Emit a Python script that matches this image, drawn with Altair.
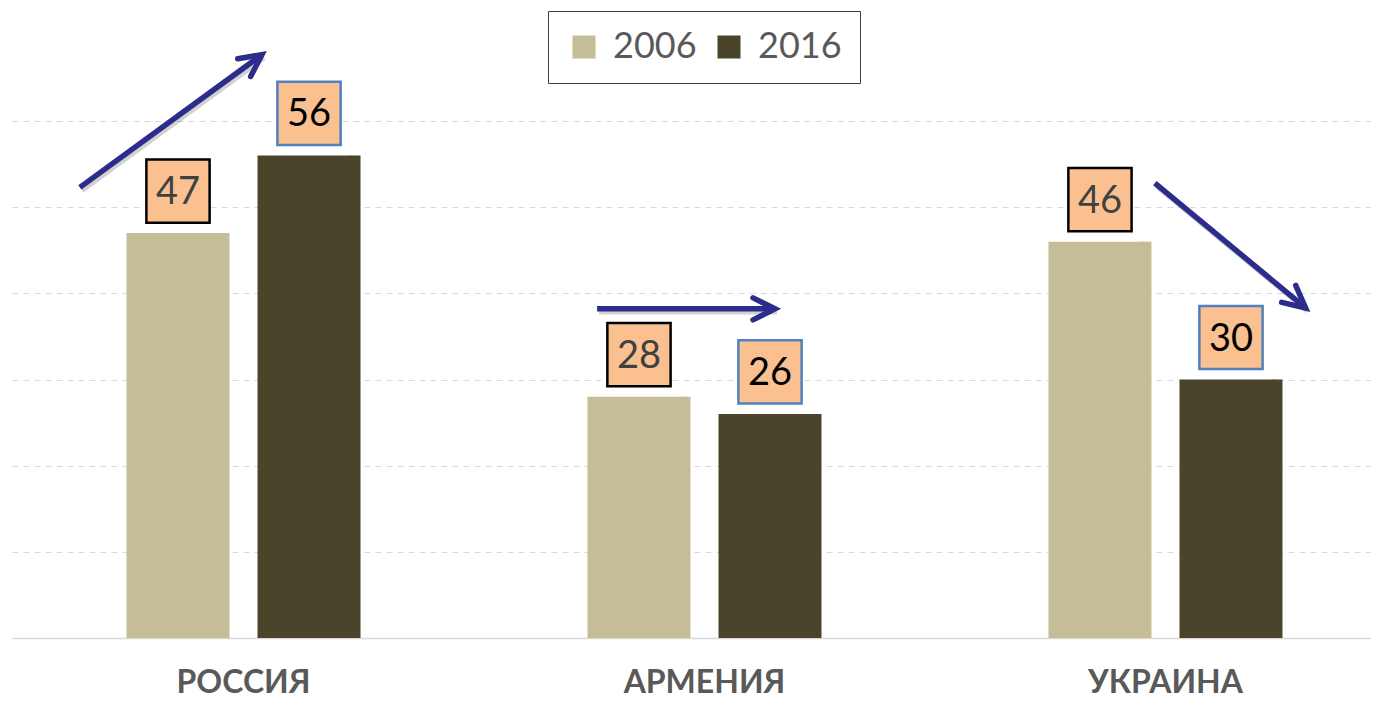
import math
import altair as alt
import pandas as pd

# ---------------- data ----------------
countries = ["РОССИЯ", "АРМЕНИЯ", "УКРАИНА"]
years = ["2006", "2016"]
values_2006 = [47, 28, 46]
values_2016 = [56, 26, 30]

# trend arrows: x in category units (0 = centre of first country), y in value units
arrow_x_start = [-0.355, 0.767, 1.977]
arrow_y_start = [52.3, 38.2, 52.8]
arrow_x_end = [0.040, 1.153, 2.304]
arrow_y_end = [67.7, 38.2, 38.3]

# ---------------- styles ----------------
bar_colors = ["#C4BD97", "#4A452A"]
box_strokes = ["#000000", "#4F81BD"]
label_colors = ["#404040", "#000000"]
BOX_FILL = "#FAC090"
ARROW = "#2B2C8C"
FONT = "Lato, 'Open Sans', sans-serif"

W, H = 1359, 517
Y_MAX = 60
PAD_INNER = 0.4924
PAD_OUTER = 0.2202
ALIGN = 0.564

rows = []
for i, c in enumerate(countries):
    rows.append({"country": c, "year": years[0], "value": values_2006[i]})
    rows.append({"country": c, "year": years[1], "value": values_2016[i]})
df = pd.DataFrame(rows)

# mapping of category units onto the same pixel range as the band scale
n = len(countries)
step = W / (n - PAD_INNER + 2 * PAD_OUTER)
start = (W - step * (n - PAD_INNER)) * ALIGN
centre0 = start + step * (1 - PAD_INNER) / 2
q_domain = [-centre0 / step, (W - centre0) / step]
px_per_val = H / Y_MAX

arrows = pd.DataFrame({
    "x0": arrow_x_start, "y0": arrow_y_start,
    "x1": arrow_x_end, "y1": arrow_y_end,
})
arrows["angle"] = [
    math.degrees(math.atan2(-(b - a) * px_per_val, (d - c) * step)) % 360
    for a, b, c, d in zip(arrow_y_start, arrow_y_end, arrow_x_start, arrow_x_end)
]

# ---------------- encodings ----------------
x_enc = alt.X(
    "country:N", sort=countries, title=None,
    scale=alt.Scale(paddingInner=PAD_INNER, paddingOuter=PAD_OUTER, align=ALIGN, round=False),
    axis=alt.Axis(labelAngle=0, ticks=False, labelFont=FONT, labelFontWeight="bold",
                  labelFontSize=32, labelColor="#595959", labelPadding=29,
                  domainColor="#D9D9D9", domainWidth=1.5, grid=False),
)
xoff_enc = alt.XOffset("year:N", sort=years,
                       scale=alt.Scale(paddingInner=0.214, paddingOuter=0))
y_axis = alt.Axis(grid=True, gridColor="#D9D9D9", gridDash=[6, 5], gridWidth=1,
                  values=[10, 20, 30, 40, 50, 60], labels=False, ticks=False,
                  domain=False, title=None)
y_enc = alt.Y("value:Q", scale=alt.Scale(domain=[0, Y_MAX], nice=False), axis=y_axis)

shadow_fill = alt.LinearGradient(
    gradient="linear", x1=0, x2=1, y1=0, y2=0,
    stops=[
        alt.GradientStop(offset=0, color="rgba(0,0,0,0)"),
        alt.GradientStop(offset=0.925, color="rgba(0,0,0,0)"),
        alt.GradientStop(offset=0.935, color="rgba(0,0,0,0.32)"),
        alt.GradientStop(offset=1, color="rgba(0,0,0,0)"),
    ],
)

bar_shadow = alt.Chart(df).mark_bar(
    fill=shadow_fill, width={"band": 1.16}
).encode(x=x_enc, xOffset=xoff_enc, y=y_enc)

bars = alt.Chart(df).mark_bar().encode(
    x=x_enc, xOffset=xoff_enc, y=y_enc,
    color=alt.Color(
        "year:N", sort=years,
        scale=alt.Scale(domain=years, range=bar_colors),
        legend=alt.Legend(
            title=None, orient="none", legendX=536, legendY=-110,
            direction="horizontal", symbolType="square", symbolSize=529,
            symbolStrokeWidth=0, labelFontSize=36, labelFont=FONT,
            labelColor="#595959", labelOffset=11, padding=18,
            columnPadding=14, strokeColor="#404040", fillColor="white",
        ),
    ),
)

boxes = alt.Chart(df).mark_point(
    shape="square", size=4000, filled=True, fill=BOX_FILL, opacity=1,
    strokeWidth=2.5, yOffset=-42,
).encode(
    x=x_enc, xOffset=xoff_enc, y=y_enc,
    stroke=alt.Stroke("year:N", scale=alt.Scale(domain=years, range=box_strokes), legend=None),
)

labels = alt.Chart(df).mark_text(
    font=FONT, fontSize=38, baseline="middle", yOffset=-40,
).encode(
    x=x_enc, xOffset=xoff_enc, y=y_enc, text="value:Q",
    fill=alt.Fill("year:N", scale=alt.Scale(domain=years, range=label_colors), legend=None),
)

xq = alt.X("x0:Q", scale=alt.Scale(domain=q_domain, nice=False, zero=False), axis=None)
yq_axis = y_axis

arrow_shadow = alt.Chart(arrows).mark_rule(
    color="#000000", opacity=0.18, strokeWidth=5.5,
    xOffset=2, yOffset=3, x2Offset=2, y2Offset=3,
).encode(
    x=xq, x2="x1:Q",
    y=alt.Y("y0:Q", scale=alt.Scale(domain=[0, Y_MAX], nice=False), axis=yq_axis), y2="y1:Q",
)
arrow_line = alt.Chart(arrows).mark_rule(color=ARROW, strokeWidth=5.5).encode(
    x=xq, x2="x1:Q",
    y=alt.Y("y0:Q", scale=alt.Scale(domain=[0, Y_MAX], nice=False), axis=yq_axis), y2="y1:Q",
)
arrow_head = alt.Chart(arrows).mark_point(
    shape="M-1,-0.5L0,0L-1,0.5", size=1936, filled=False, stroke=ARROW,
    strokeWidth=5.5, strokeJoin="miter", strokeCap="round", opacity=1,
).encode(
    x=alt.X("x1:Q", scale=alt.Scale(domain=q_domain, nice=False, zero=False), axis=None),
    y=alt.Y("y1:Q", scale=alt.Scale(domain=[0, Y_MAX], nice=False), axis=yq_axis),
    angle=alt.Angle("angle:Q", scale=None),
)

band_layer = alt.layer(bar_shadow, bars, boxes, labels)
arrow_layer = alt.layer(arrow_shadow, arrow_line, arrow_head)

chart = (
    alt.layer(band_layer, arrow_layer)
    .resolve_scale(x="independent")
    .properties(
        width=W, height=H,
        padding={"left": 4, "top": 113, "right": 0, "bottom": 60},
        autosize=alt.AutoSizeParams(type="none"),
        background="white",
    )
    .configure_view(stroke=None)
)

chart.save("out.html", embed_options={"renderer": "svg", "actions": False})
